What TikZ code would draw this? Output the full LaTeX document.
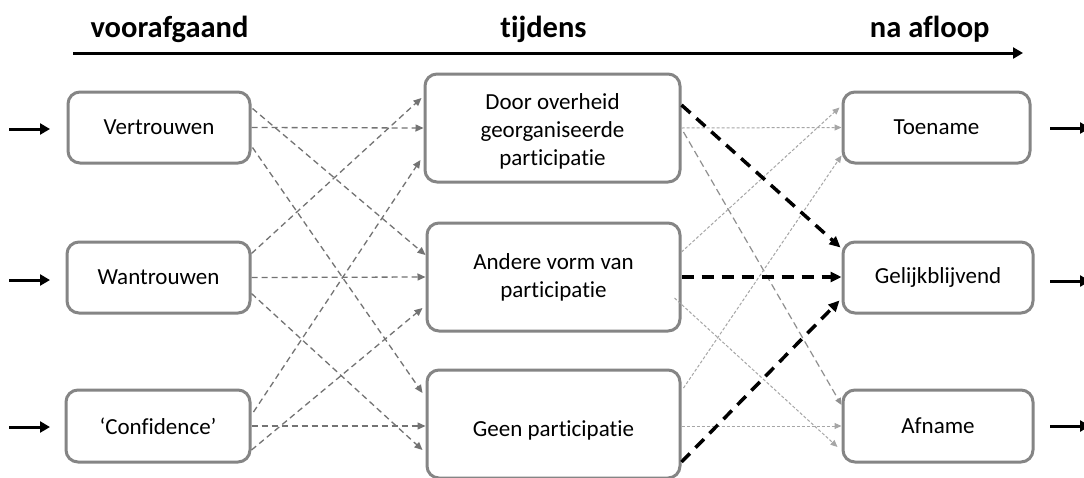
\documentclass[tikz,border=0pt]{standalone}
\usepackage{fontspec}
\setmainfont{Carlito}[Ligatures=NoCommon]
\usetikzlibrary{arrows.meta,calc}
\definecolor{boxgray}{HTML}{858585}
\definecolor{edgegray}{HTML}{737373}
\definecolor{lightedge}{HTML}{A6A6A6}
\begin{document}
\begin{tikzpicture}[x=1pt,y=-1pt,
  box/.style={draw=boxgray,line width=3pt,rounded corners=12pt,fill=white,align=center,
    font=\fontsize{23}{28}\selectfont,inner sep=0pt},
  head/.style={font=\fontsize{30.5}{32}\selectfont\bfseries,anchor=base},
  ledge/.style={draw=edgegray,line width=1.3pt,dash pattern=on 6pt off 4pt,
    -{Triangle[length=8pt,width=7pt]},color=edgegray},
  redge/.style={draw=lightedge,line width=1pt,dash pattern=on 3pt off 2pt,
    -{Triangle[length=7pt,width=6pt]},color=lightedge},
  medge/.style={draw=edgegray!80,line width=1.2pt,dash pattern=on 7pt off 4pt,
    -{Triangle[length=7pt,width=6pt]},color=edgegray!80},
  bedge/.style={draw=black,line width=3.5pt,dash pattern=on 12pt off 8pt,
    -{Triangle[length=11pt,width=10pt]}},
  io/.style={draw=black,line width=3pt,-{Triangle[length=10pt,width=11pt]}}
]
\clip (0,0) rectangle (1084,477);
\useasboundingbox (0,0) rectangle (1084,477);
\fill[white] (0,0) rectangle (1084,477);

% headings and timeline
\node[head,anchor=base west] (h1) at (87,37) {voorafgaand};
\node[head] (h2) at (543.5,37) {tijdens};
\node[head,anchor=base east] (h3) at (993,37) {na afloop};
\coordinate (t0) at (73,53);
\coordinate (t1) at (1023,53);
\draw[io] (t0) -- (t1);

% boxes
\node[box,minimum width=182pt,minimum height=71pt] (V) at (159,127.5) {Vertrouwen};
\node[box,minimum width=183pt,minimum height=71pt] (W) at (158.5,277.5) {Wantrouwen};
\node[box,minimum width=184pt,minimum height=72pt] (C) at (158,426) {‘Confidence’};
\node[box,minimum width=255pt,minimum height=108pt] (D) at (552.5,128) {\raisebox{-3pt}[\height][\depth]{Door overheid}\\\raisebox{-3pt}[\height][\depth]{georganiseerde}\\\raisebox{-3pt}[\height][\depth]{participatie}};
\node[box,minimum width=253pt,minimum height=108pt] (A) at (553.5,277) {Andere vorm van\\participatie};
\node[box,minimum width=253pt,minimum height=108pt] (G) at (553.5,424) {\raisebox{-6pt}[\height][\depth]{Geen participatie}};
\node[box,minimum width=187pt,minimum height=71pt] (T) at (936.5,127.5) {Toename};
\node[box,minimum width=190pt,minimum height=71pt] (Gl) at (938,277.5) {Gelijkblijvend};
\node[box,minimum width=190pt,minimum height=72pt] (Af) at (938,426) {Afname};

% input / output arrows
\foreach \n/\y in {V/129,W/280,C/427}{
  \coordinate (in\n) at (9,\y);
  \coordinate (ie\n) at (50,\y);
  \draw[io] (in\n) -- (ie\n);
}
\foreach \n/\y in {T/128,Gl/281,Af/426}{
  \coordinate (os\n) at (1050,\y);
  \coordinate (out\n) at (1090,\y);
  \draw[io] (os\n) -- (out\n);
}

% left -> middle
\draw[ledge] (V.east) -- (D.west);
\draw[ledge] ($(V.east)+(1,-19)$) -- ($(A.west)+(0,-22)$);
\draw[ledge] ($(V.east)+(1,20)$) -- ($(G.west)+(-3,-31)$);
\draw[ledge] ($(W.east)+(0,-24)$) -- ($(D.west)+(-2,-30)$);
\draw[ledge] (W.east) -- (A.west);
\draw[ledge] ($(W.east)+(0,16)$) -- ($(G.west)+(-3,26)$);
\draw[ledge] ($(C.east)+(2,-14)$) -- ($(D.west)+(-3,32)$);
\draw[ledge] ($(C.east)+(0,24)$) -- ($(A.west)+(-3,31)$);
\draw[ledge] (C.east) -- (G.west |- C.east);

% middle -> right
\draw[redge] (D.east) -- (T.west);
\draw[medge] ($(D.east)+(2,4)$) -- ($(Af.west)+(0,-21)$);
\draw[redge] ($(A.east)+(0,-25)$) -- ($(T.west)+(-2,-20)$);
\draw[redge] ($(A.east)+(-7,21)$) -- ($(Af.west)+(-4,21)$);
\draw[redge] ($(G.east)+(2,-36)$) -- ($(T.west)+(0,28)$);
\draw[redge] ($(G.east)+(0,2)$) -- (Af.west);
\draw[bedge] ($(D.east)+(0,-23)$) -- ($(Gl.west)+(-1,-30)$);
\draw[bedge] (A.east) -- (Gl.west |- A.east);
\draw[bedge] ($(G.east)+(0,38)$) -- ($(Gl.west)+(-2,23)$);
\end{tikzpicture}
\end{document}
